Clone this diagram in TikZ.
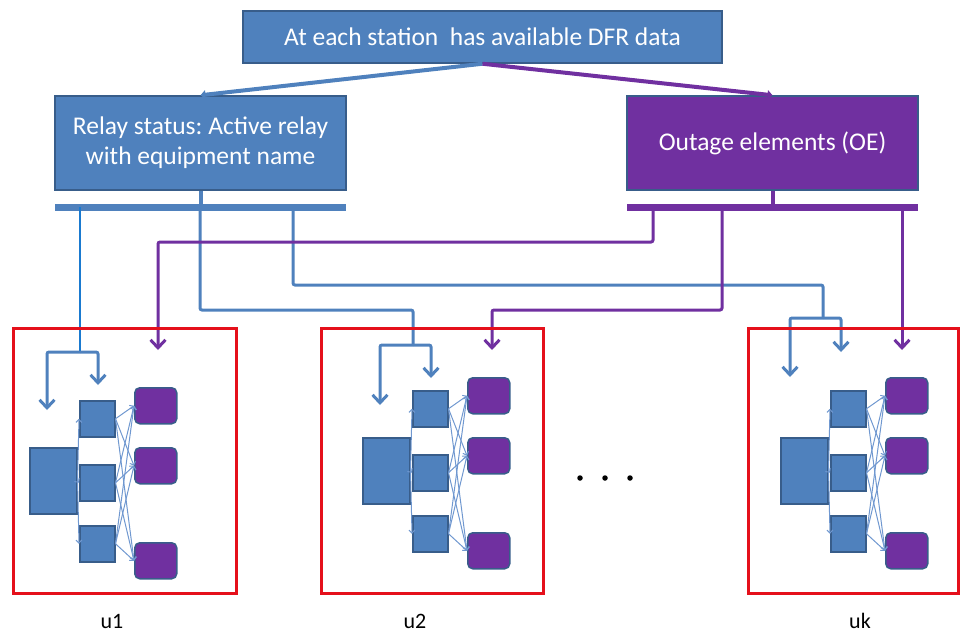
\documentclass[tikz,border=0pt]{standalone}
\usepackage{fontspec}
\setmainfont{Carlito}
\usetikzlibrary{arrows.meta}
\frenchspacing

\definecolor{oeblue}{HTML}{4F81BD}
\definecolor{oedark}{HTML}{385D8A}
\definecolor{oepurple}{HTML}{7030A0}
\definecolor{tapblue}{HTML}{1A7AD0}
\definecolor{framered}{HTML}{E5101B}
\definecolor{fanblue}{HTML}{7098D0}

\tikzset{
  bluebox/.style={draw=oedark, fill=oeblue, line width=1.5pt, inner sep=0pt,
    text=white, font=\fontsize{25.5}{30}\selectfont, align=center},
  purplebox/.style={bluebox, fill=oepurple},
  feed/.style={line width=4pt, -{Triangle[length=5pt,width=9pt]}},
  bus/.style={line width=7pt},
  stub/.style={line width=4pt},
  drop/.style={line width=3pt, rounded corners=2pt},
  barb/.style={drop, -{Straight Barb[length=8pt,width=15pt]}},
  frame/.style={draw=framered, line width=3pt, inner sep=0pt},
  unitbig/.style={draw=oedark, fill=oeblue, line width=1.5pt, inner sep=0pt,
    minimum width=47, minimum height=66},
  unitsq/.style={unitbig, minimum width=35, minimum height=36},
  unitoe/.style={unitbig, fill=oepurple, rounded corners=5pt,
    minimum width=42, minimum height=36},
  fan/.style={draw=fanblue, line width=1pt, -{Straight Barb[length=3pt,width=6pt]}},
  ulabel/.style={font=\fontsize{22}{26}\selectfont, inner sep=0pt, anchor=base},
  gapdot/.style={circle, fill=black, inner sep=0pt, minimum size=5.5pt}
}

\begin{document}
\begin{tikzpicture}[x=1pt, y=-1pt]
	\useasboundingbox (0,0) rectangle (961,632);

	% upper boxes
	\node[bluebox, minimum width=479, minimum height=52] (dfr) at (482.5,37) {At each station~ has available DFR data};
	\node[bluebox, minimum width=291, minimum height=94] (relay) at (200.5,143) {Relay status: Active relay\\with equipment name};
	\node[purplebox, minimum width=291, minimum height=94] (oe) at (772.5,143) {Outage elements (OE)};
	\draw[feed, oeblue] (dfr.south) -- (relay.north);
	\draw[feed, oepurple] (dfr.south) -- (oe.north);

	% bus bars and taps
	\coordinate (rbus-l) at (55,207);
	\coordinate (rbus-r) at (346,207);
	\coordinate (obus-l) at (627,207);
	\coordinate (obus-r) at (918,207);
	\draw[bus, oeblue] (rbus-l) -- (rbus-r);
	\draw[bus, oepurple] (obus-l) -- (obus-r);
	\draw[stub, oeblue] (relay.south) -- (relay.south |- rbus-l);
	\draw[stub, oepurple] (oe.south) -- (oe.south |- obus-l);
	\coordinate (rt1) at (80,207);
	\coordinate (rt2) at (200,207);
	\coordinate (rt3) at (293,207);
	\coordinate (ot1) at (653,207);
	\coordinate (ot2) at (722,207);
	\coordinate (ot3) at (902,207);

	% bends, junctions and arrow ends
	\coordinate (k2) at (413,310);
	\coordinate (kk) at (823,285);
	\coordinate (j1) at (80,352);
	\coordinate (j2) at (413,345);
	\coordinate (jk) at (823,318);
	\coordinate (bl1) at (47,410);
	\coordinate (br1) at (98,385);
	\coordinate (bl2) at (380,405);
	\coordinate (br2) at (431,378);
	\coordinate (blk) at (790,377);
	\coordinate (brk) at (841,352);
	\coordinate (pk1) at (158,242);
	\coordinate (pk2) at (492,310);
	\coordinate (pa1) at (158,350);
	\coordinate (pa2) at (492,350);
	\coordinate (pak) at (902,350);

	% relay drops
	\draw[drop, tapblue, line width=2pt] (rt1) -- (j1);
	\draw[drop, oeblue] (rt2) |- (k2) -- (j2);
	\draw[drop, oeblue] (rt3) |- (kk) -- (jk);
	\draw[barb, oeblue] (j1) -| (bl1);
	\draw[barb, oeblue] (j1) -| (br1);
	\draw[barb, oeblue] (j2) -| (bl2);
	\draw[barb, oeblue] (j2) -| (br2);
	\draw[barb, oeblue] (jk) -| (blk);
	\draw[barb, oeblue] (jk) -| (brk);

	% outage drops
	\draw[barb, oepurple] (ot1) |- (pk1) -- (pa1);
	\draw[barb, oepurple] (ot2) |- (pk2) -- (pa2);
	\draw[barb, oepurple] (ot3) -- (pak);

	% unit frames and labels
	\node[frame, anchor=north west, minimum width=223, minimum height=265] (u1-frame) at (12,327) {};
	\node[frame, anchor=north west, minimum width=222, minimum height=265] (u2-frame) at (320,327) {};
	\node[frame, anchor=north west, minimum width=210, minimum height=265] (uk-frame) at (747,327) {};
	\node[ulabel] (u1-lab) at (112,628) {u1};
	\node[ulabel] (u2-lab) at (415,628) {u2};
	\node[ulabel] (uk-lab) at (860,628) {uk};

	% unit contents
	\foreach \u/\bx/\by in {u1/29/447, u2/362/437, uk/780/437}{
		\node[unitbig, anchor=north west] (\u-big) at (\bx,\by) {};
		\node[unitsq, anchor=north west] (\u-s1) at (\bx+50,\by-47) {};
		\node[unitsq, anchor=north west] (\u-s2) at (\bx+50,\by+17) {};
		\node[unitsq, anchor=north west] (\u-s3) at (\bx+50,\by+78) {};
		\node[unitoe, anchor=north west] (\u-o1) at (\bx+105,\by-60) {};
		\node[unitoe, anchor=north west] (\u-o2) at (\bx+105,\by) {};
		\node[unitoe, anchor=north west] (\u-o3) at (\bx+105,\by+95) {};
		\foreach \s in {1,2,3}{
			\draw[fan] (\u-big.east) -- (\u-s\s.west);
			\foreach \o in {1,2,3}
				\draw[fan] (\u-s\s.east) -- (\u-o\o.west);
		}
	}

	% gap between units
	\node[gapdot] (gap1) at (580,478) {};
	\node[gapdot] (gap2) at (605,478) {};
	\node[gapdot] (gap3) at (630,478) {};
\end{tikzpicture}
\end{document}
